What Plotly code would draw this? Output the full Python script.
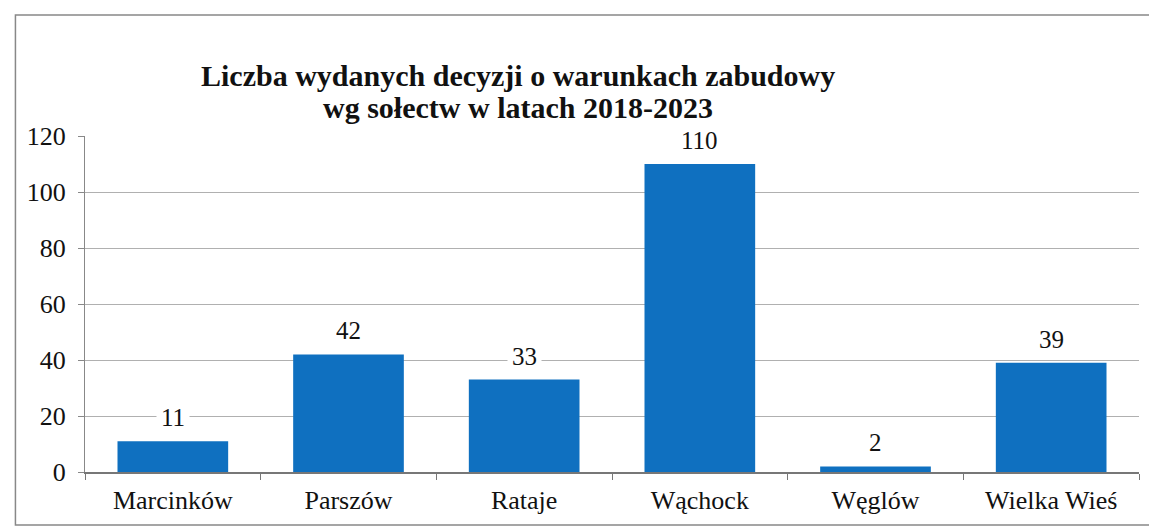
import plotly.graph_objects as go

categories = ["Marcinków", "Parszów", "Rataje", "Wąchock", "Węglów", "Wielka Wieś"]
values = [11, 42, 33, 110, 2, 39]
y_ticks = [0, 20, 40, 60, 80, 100, 120]
title_lines = ["Liczba wydanych decyzji o warunkach zabudowy", "wg sołectw w latach 2018-2023"]

serif = "Times New Roman, Liberation Serif, DejaVu Serif, serif"

fig = go.Figure(go.Bar(
    x=categories, y=values,
    marker=dict(color="#0f70c0", line=dict(width=0)),
    width=0.63,
))

# value labels with white background so gridlines break behind them
for c, v in zip(categories, values):
    fig.add_annotation(x=c, y=v, text=str(v), showarrow=False, yanchor="bottom",
                       yshift=5, bgcolor="white", borderpad=4,
                       font=dict(family=serif, size=25, color="#111"))

# title as two annotations so the line spacing can be tightened
for line, ypos in zip(title_lines, [1.1815, 1.0863]):
    fig.add_annotation(xref="paper", yref="paper", x=0.411, y=ypos, text="<b>" + line + "</b>",
                       showarrow=False, xanchor="center", yanchor="middle",
                       font=dict(family=serif, size=30, color="#111"))

# page has an 8px body margin, so the figure is a bit smaller than the window
fig.update_layout(
    width=1149, height=524,
    margin=dict(l=77, r=18, t=128, b=60),
    paper_bgcolor="white", plot_bgcolor="white",
    font=dict(family=serif, size=26, color="#111"),
    showlegend=False,
)
fig.update_xaxes(showline=True, linecolor="#777", linewidth=1.5, ticks="outside",
                 tickson="boundaries", ticklen=6, tickcolor="#777",
                 range=[-0.5, 5.5], ticklabelstandoff=4,
                 tickfont=dict(family=serif, size=26, color="#111"))
fig.update_yaxes(range=[0, 120], tickvals=y_ticks, showline=True, linecolor="#888",
                 linewidth=1, ticks="outside", ticklen=6, tickcolor="#888",
                 ticklabelstandoff=7,
                 showgrid=True, gridcolor="#b0b0b0", gridwidth=1, zeroline=False,
                 tickfont=dict(family=serif, size=26, color="#111"))

fig.add_shape(type="rect", xref="paper", yref="paper",
              x0=-0.066, x1=1.2, y0=-0.158, y1=1.36,
              line=dict(color="#888", width=1.5))

fig.write_html("out.html")
